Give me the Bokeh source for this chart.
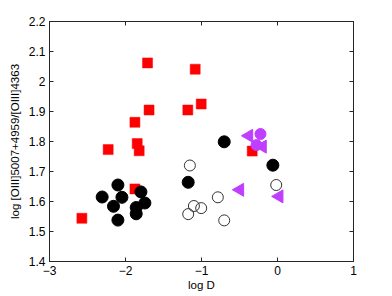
import math
from bokeh.plotting import figure
from bokeh.models import LinearAxis, Range1d, FixedTicker
from bokeh.embed import file_html
from bokeh.resources import INLINE

# Red squares
sq_x = [-1.71, -1.083, -1.004, -1.18, -1.69, -1.876, -1.846, -1.82, -2.228, -1.876, -2.574, -0.333]
sq_y = [2.062, 2.041, 1.925, 1.905, 1.905, 1.864, 1.793, 1.769, 1.773, 1.642, 1.544, 1.768]
# Black filled circles
bc_x = [-2.10, -2.307, -2.047, -1.797, -2.158, -1.745, -1.859, -1.859, -2.10, -1.175, -0.701, -0.061]
bc_y = [1.655, 1.615, 1.614, 1.632, 1.584, 1.595, 1.580, 1.559, 1.538, 1.664, 1.799, 1.721]
# Open circles
oc_x = [-1.153, -1.10, -1.004, -1.175, -0.785, -0.701, -0.017]
oc_y = [1.720, 1.585, 1.578, 1.558, 1.614, 1.537, 1.655]
# Purple left triangles
pt_x = [-0.376, -0.197, -0.495, 0.022]
pt_y = [1.819, 1.783, 1.639, 1.617]
# Purple circles
pc_x = [-0.224, -0.276]
pc_y = [1.825, 1.788]

x_ticks = [-3, -2, -1, 0, 1]
y_ticks = [1.4, 1.5, 1.6, 1.7, 1.8, 1.9, 2.0, 2.1, 2.2]

PURPLE = "#bf3eff"
FONT = "Liberation Sans"
AXC = "#262626"

p = figure(output_backend="svg", toolbar_location=None,
           frame_width=304, frame_height=240,
           x_range=Range1d(-3, 1), y_range=Range1d(1.4, 2.2),
           min_border_left=49, min_border_right=20, min_border_top=21, min_border_bottom=30)
p.background_fill_color = "white"
p.border_fill_color = "white"
p.outline_line_color = AXC
p.outline_line_width = 1
p.grid.visible = False

def style_axis(ax, labels=True):
    ax.major_tick_in = 4
    ax.major_tick_out = 0
    ax.minor_tick_line_color = None
    ax.axis_line_color = AXC
    ax.major_tick_line_color = AXC
    ax.major_label_text_font = FONT
    ax.major_label_text_font_size = "12px"
    ax.major_label_text_color = "black"
    ax.major_label_standoff = 4
    ax.axis_label_text_font = FONT
    ax.axis_label_text_font_size = "11.5px"
    ax.axis_label_text_font_style = "normal"
    ax.axis_label_text_color = "black"
    ax.axis_label_standoff = 4
    if not labels:
        ax.major_label_text_font_size = "0px"
        ax.major_label_text_color = None

p.xaxis.ticker = FixedTicker(ticks=x_ticks)
p.yaxis.ticker = FixedTicker(ticks=y_ticks)
p.xaxis.axis_label = "log D"
p.yaxis.axis_label = "log [OIII]5007+4959/[OIII]4363"
p.xaxis.major_label_overrides = {-3: "\u22123", -2: "\u22122", -1: "\u22121", 0: "0", 1: "1"}
p.yaxis.major_label_overrides = {1.4: "1.4", 1.5: "1.5", 1.6: "1.6", 1.7: "1.7", 1.8: "1.8",
                                 1.9: "1.9", 2.0: "2", 2.1: "2.1", 2.2: "2.2"}
style_axis(p.xaxis[0])
style_axis(p.yaxis[0])
p.xaxis.axis_label_standoff = 1
p.yaxis.axis_label_standoff = 5

top = LinearAxis(ticker=FixedTicker(ticks=x_ticks))
right = LinearAxis(ticker=FixedTicker(ticks=y_ticks))
style_axis(top, labels=False)
style_axis(right, labels=False)
top.major_label_standoff = 0
right.major_label_standoff = 0
p.add_layout(top, "above")
p.add_layout(right, "right")

p.scatter(sq_x, sq_y, marker="square", size=10, fill_color="#ff0000", line_color="#ff0000", line_width=0.5)
p.scatter(bc_x, bc_y, marker="circle", size=12, fill_color="black", line_color="black")
p.scatter(oc_x, oc_y, marker="circle", size=11, fill_color=None, line_color="#333333", line_width=1)
p.scatter(pt_x, pt_y, marker="triangle", size=13, angle=math.pi / 2,
          fill_color=PURPLE, line_color=PURPLE)
p.scatter(pc_x, pc_y, marker="circle", size=11, fill_color=PURPLE, line_color=PURPLE)

open("out.html", "w").write(file_html(p, INLINE))
